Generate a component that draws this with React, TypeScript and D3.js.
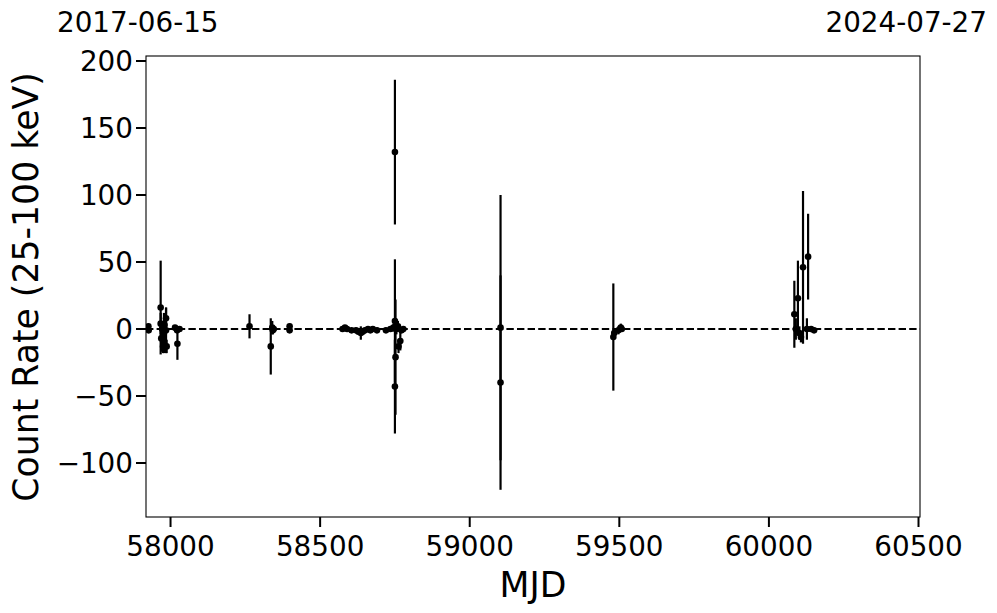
import React from "react";
import * as d3 from "d3";

const mjd: number[] = [
  57926, 57927,
  57967, 57967, 57969, 57972, 57975, 57978, 57980, 57985, 57985, 57987,
  58015, 58022, 58023, 58030,
  58264,
  58335, 58340, 58342, 58345,
  58398, 58398,
  58575, 58583, 58590, 58605, 58620, 58628, 58636, 58642, 58650, 58660, 58668, 58676, 58690,
  58720, 58735, 58745, 58750, 58750, 58750, 58752, 58755, 58760, 58762, 58768, 58772, 58778,
  59103, 59103,
  59480, 59483, 59497, 59505, 59508,
  60085, 60090, 60097, 60102, 60107, 60114, 60127, 60131, 60141, 60151,
];

const rate: number[] = [
  2, -1,
  16, 4, -7, 0, -13, -3, 3, 8, -1, -13,
  1, -1, -11, 0,
  2,
  -13, 1, -1, 0,
  2, -1,
  0, 1, 0, -1, -1, -2, -3, -2, -1, 0, -1, 0, -1,
  -1, 0, 1, 132, 6, -43, -21, 0, 2, -13, -9, -1, 0,
  1, -40,
  -6, -3, -1, 1, 0,
  11, 0, 23, -3, -6, 46, 0, 54, 0, -1,
];

const rateErr: number[] = [
  2, 2,
  35, 8, 10, 6, 5, 15, 6, 8, 17, 5,
  2, 2, 12, 2,
  9,
  21, 5, 3, 2,
  2, 2,
  1.5, 1.5, 1.5, 1.5, 2, 2, 5, 2, 2, 2, 2, 2, 2,
  2, 2, 3, 54, 46, 35, 43, 4, 4, 5, 7, 2, 2,
  99, 80,
  40, 3, 3, 3, 2,
  25, 8, 28, 5, 4, 57, 8, 32, 2, 2,
];

const xTicks: number[] = [58000, 58500, 59000, 59500, 60000, 60500];
const yTicks: number[] = [-100, -50, 0, 50, 100, 150, 200];
const startDate = "2017-06-15";
const endDate = "2024-07-27";
const xLabel = "MJD";
const yLabel = "Count Rate (25-100 keV)";

const W = 997;
const H = 613;
const L = 146, R = 920, T = 56, B = 517;
const FONT = "DejaVu Sans, sans-serif";

export default function App() {
  const x = d3.scaleLinear().domain([57918, 60505]).range([L, R]);
  const y = d3.scaleLinear().domain([-140.3, 203.73]).range([B, T]);
  const fmt = (v: number) => (v < 0 ? "\u2212" + Math.abs(v) : String(v));

  return (
    <svg
      width={W}
      height={H}
      style={{ position: "absolute", left: 0, top: 0, background: "#fff" }}
      fontFamily={FONT}
    >
      <defs>
        <clipPath id="plotclip">
          <rect x={L} y={T} width={R - L} height={B - T} />
        </clipPath>
      </defs>
      <rect x={0} y={0} width={W} height={H} fill="#fff" />

      <g clipPath="url(#plotclip)">
        <line
          x1={L}
          x2={R}
          y1={y(0)}
          y2={y(0)}
          stroke="#000"
          strokeWidth={2}
          strokeDasharray="7.4,3.2"
        />
        {mjd.map((m, i) => (
          <line
            key={"e" + i}
            x1={x(m)}
            x2={x(m)}
            y1={y(rate[i] - rateErr[i])}
            y2={y(rate[i] + rateErr[i])}
            stroke="#000"
            strokeWidth={2.2}
          />
        ))}
        {mjd.map((m, i) => (
          <circle key={"p" + i} cx={x(m)} cy={y(rate[i])} r={3.3} fill="#000" />
        ))}
      </g>

      <rect
        x={L}
        y={T}
        width={R - L}
        height={B - T}
        fill="none"
        stroke="#000"
        strokeWidth={1.1}
      />

      {xTicks.map((t) => (
        <g key={"xt" + t}>
          <line x1={x(t)} x2={x(t)} y1={B} y2={B + 10} stroke="#000" strokeWidth={2} />
          <text x={x(t)} y={B + 39} textAnchor="middle" fontSize={27.8} fill="#000">
            {fmt(t)}
          </text>
        </g>
      ))}
      {yTicks.map((t) => (
        <g key={"yt" + t}>
          <line x1={L - 10} x2={L} y1={y(t)} y2={y(t)} stroke="#000" strokeWidth={2} />
          <text
            x={L - 13}
            y={y(t) + 10}
            textAnchor="end"
            fontSize={27.8}
            fill="#000"
          >
            {fmt(t)}
          </text>
        </g>
      ))}

      <text x={533} y={597} textAnchor="middle" fontSize={34.7} fill="#000">
        {xLabel}
      </text>
      <text
        transform={`translate(38, 287) rotate(-90)`}
        textAnchor="middle"
        fontSize={34.7}
        fill="#000"
      >
        {yLabel}
      </text>

      <text x={57} y={32} textAnchor="start" fontSize={27.8} fill="#000">
        {startDate}
      </text>
      <text x={987} y={32} textAnchor="end" fontSize={27.8} fill="#000">
        {endDate}
      </text>
    </svg>
  );
}
